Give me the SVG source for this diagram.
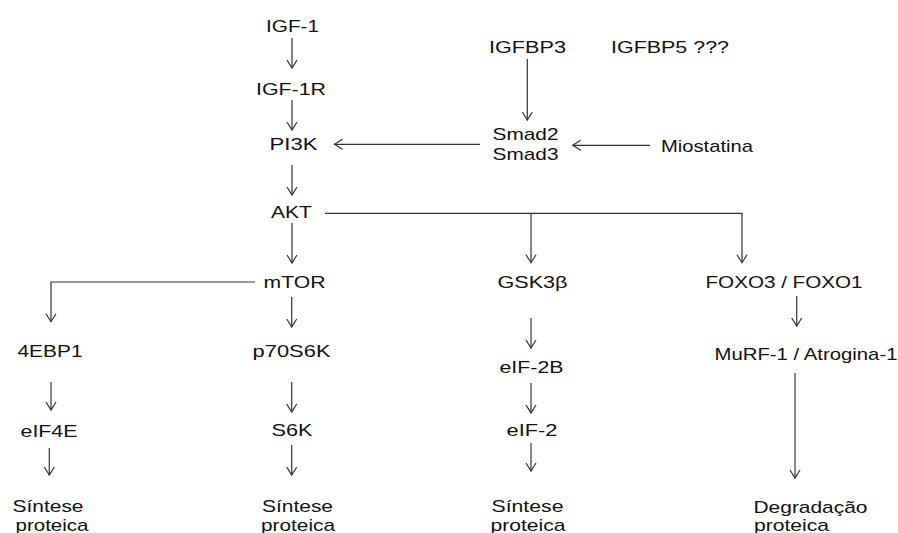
<svg xmlns="http://www.w3.org/2000/svg" width="898" height="533" viewBox="0 0 898 533">
<style>
text{font-family:"Liberation Sans",Arial,sans-serif;font-size:17px;fill:#111}
.c path{fill:none;stroke:#333;stroke-width:1.2}
</style>
<defs>
<marker id="ah" markerUnits="userSpaceOnUse" markerWidth="20" markerHeight="20" refX="0" refY="0" orient="auto" viewBox="-10 -10 20 20" overflow="visible">
<path d="M-8,-5 L0,0 L-8,5" fill="none" stroke="#333" stroke-width="1.2"/>
</marker>
</defs>
<rect width="898" height="533" fill="#fff"/>
<g class="c" id="connectors">
<path d="M292,38 V68" marker-end="url(#ah)"/>
<path d="M292,100 V130" marker-end="url(#ah)"/>
<path d="M292,165 V195" marker-end="url(#ah)"/>
<path d="M292,223 V263" marker-end="url(#ah)"/>
<path d="M325,213.3 H742 V262.7" marker-end="url(#ah)"/>
<path d="M531,213.3 V262.7" marker-end="url(#ah)"/>
<path d="M527.3,59 V120" marker-end="url(#ah)"/>
<path d="M480,144.3 H334.5" marker-end="url(#ah)"/>
<path d="M650,145.3 H572.7" marker-end="url(#ah)"/>
<path d="M255,282 H51 V321.7" marker-end="url(#ah)"/>
<path d="M291.7,297 V327" marker-end="url(#ah)"/>
<path d="M291.7,382 V412" marker-end="url(#ah)"/>
<path d="M291.7,445 V475" marker-end="url(#ah)"/>
<path d="M51,382 V410" marker-end="url(#ah)"/>
<path d="M49.3,448 V475" marker-end="url(#ah)"/>
<path d="M531,318 V348" marker-end="url(#ah)"/>
<path d="M531,383 V413" marker-end="url(#ah)"/>
<path d="M531,443 V471" marker-end="url(#ah)"/>
<path d="M796.7,296 V326" marker-end="url(#ah)"/>
<path d="M795,373 V478" marker-end="url(#ah)"/>
</g>
<g id="igf1"><text x="266" y="31.5" textLength="53" lengthAdjust="spacingAndGlyphs">IGF-1</text></g>
<g id="igf1r"><text x="256" y="95" textLength="70" lengthAdjust="spacingAndGlyphs">IGF-1R</text></g>
<g id="pi3k"><text x="269.5" y="150" textLength="48" lengthAdjust="spacingAndGlyphs">PI3K</text></g>
<g id="akt"><text x="271" y="217.5" textLength="41" lengthAdjust="spacingAndGlyphs">AKT</text></g>
<g id="igfbp3"><text x="489" y="53" textLength="77" lengthAdjust="spacingAndGlyphs">IGFBP3</text></g>
<g id="igfbp5"><text x="611" y="53" textLength="118" lengthAdjust="spacingAndGlyphs">IGFBP5 ???</text></g>
<g id="smad"><text x="492.5" y="140" textLength="66" lengthAdjust="spacingAndGlyphs">Smad2</text><text x="492.5" y="160" textLength="66" lengthAdjust="spacingAndGlyphs">Smad3</text></g>
<g id="miostatina"><text x="661" y="151.5" textLength="92" lengthAdjust="spacingAndGlyphs">Miostatina</text></g>
<g id="mtor"><text x="263.5" y="288" textLength="62" lengthAdjust="spacingAndGlyphs">mTOR</text></g>
<g id="gsk3b"><text x="497.5" y="288" textLength="70" lengthAdjust="spacingAndGlyphs">GSK3β</text></g>
<g id="foxo"><text x="705.5" y="288" textLength="157" lengthAdjust="spacingAndGlyphs">FOXO3 / FOXO1</text></g>
<g id="ebp1"><text x="17.5" y="356.5" textLength="65" lengthAdjust="spacingAndGlyphs">4EBP1</text></g>
<g id="p70s6k"><text x="252.5" y="356.5" textLength="78" lengthAdjust="spacingAndGlyphs">p70S6K</text></g>
<g id="murf"><text x="714.5" y="359.5" textLength="183" lengthAdjust="spacingAndGlyphs">MuRF-1 / Atrogina-1</text></g>
<g id="eif2b"><text x="499.5" y="373" textLength="64" lengthAdjust="spacingAndGlyphs">eIF-2B</text></g>
<g id="eif4e"><text x="20.5" y="437" textLength="57" lengthAdjust="spacingAndGlyphs">eIF4E</text></g>
<g id="s6k"><text x="271.5" y="435.5" textLength="41" lengthAdjust="spacingAndGlyphs">S6K</text></g>
<g id="eif2"><text x="506.5" y="435.5" textLength="51" lengthAdjust="spacingAndGlyphs">eIF-2</text></g>
<g id="sintese1"><text x="12.5" y="511.5" textLength="71" lengthAdjust="spacingAndGlyphs">Síntese</text><text x="15.5" y="531" textLength="73" lengthAdjust="spacingAndGlyphs">proteica</text></g>
<g id="sintese2"><text x="262" y="511.5" textLength="71" lengthAdjust="spacingAndGlyphs">Síntese</text><text x="261" y="531" textLength="74" lengthAdjust="spacingAndGlyphs">proteica</text></g>
<g id="sintese3"><text x="491.5" y="511.5" textLength="72" lengthAdjust="spacingAndGlyphs">Síntese</text><text x="490.5" y="531" textLength="75" lengthAdjust="spacingAndGlyphs">proteica</text></g>
<g id="degradacao"><text x="753.5" y="512.5" textLength="114" lengthAdjust="spacingAndGlyphs">Degradação</text><text x="754" y="531" textLength="75" lengthAdjust="spacingAndGlyphs">proteica</text></g>
</svg>
